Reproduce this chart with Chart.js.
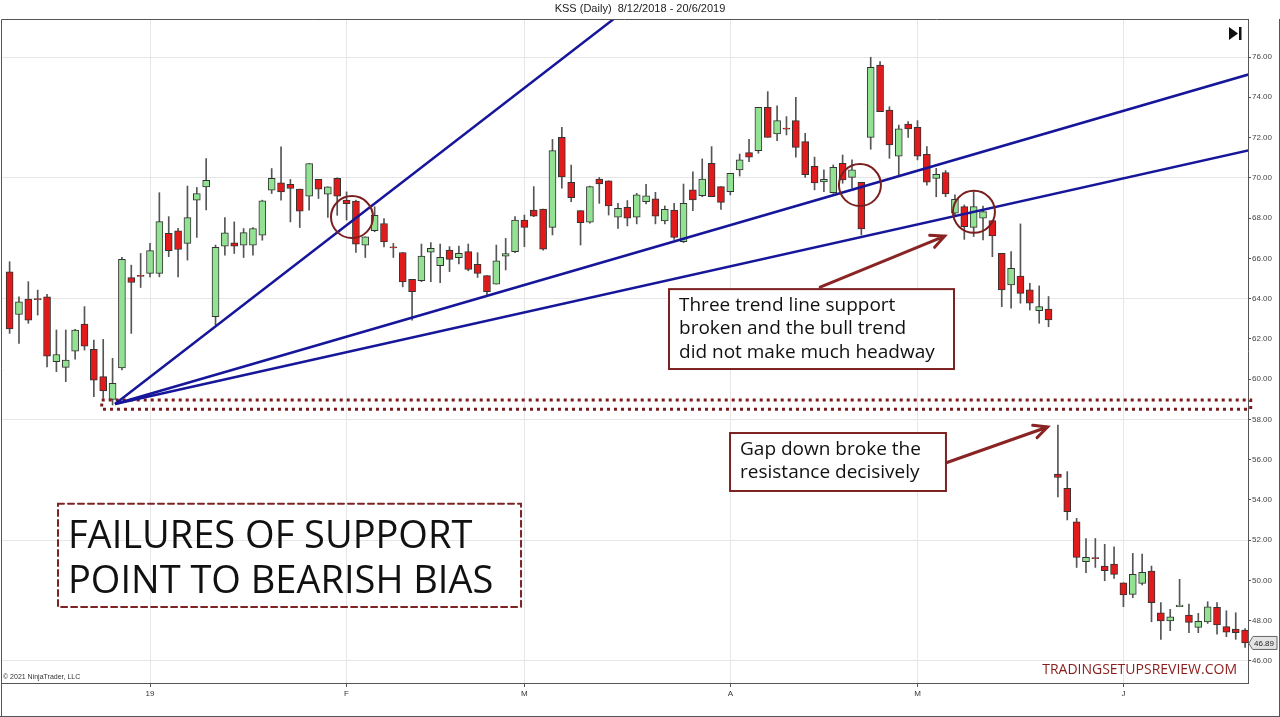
<!DOCTYPE html>
<html>
<head>
<meta charset="utf-8">
<script src="https://cdn.jsdelivr.net/npm/chart.js@4.4.1/dist/chart.umd.min.js"></script>
<style>
  html, body { margin: 0; padding: 0; background: #fff; }
  canvas { display: block; }
</style>
</head>
<body>
<canvas id="kss" width="1280" height="717"></canvas>
<script>
// KSS daily candles, 10 Dec 2018 .. 20 Jun 2019 (index = trading day)
const opens = [65.33,63.21,63.98,63.98,64.09,60.86,60.58,61.39,62.73,61.48,60.12,58.99,60.56,65.04,65.12,65.25,65.25,67.24,67.37,66.74,
  68.89,69.55,63.10,66.60,66.77,66.65,66.65,67.15,69.39,69.75,69.68,69.44,69.09,69.92,69.19,69.97,68.89,68.84,66.65,67.37,
  67.73,66.56,66.29,64.96,64.89,66.30,65.63,66.41,66.03,66.33,65.70,65.14,64.72,66.11,66.33,67.90,68.40,68.45,67.54,72.01,
  69.77,68.37,67.79,69.94,69.85,68.04,68.53,68.04,68.82,68.95,67.86,68.40,66.83,69.40,69.11,70.72,69.56,69.31,70.39,71.25,
  71.35,73.50,72.18,72.46,72.84,71.80,70.57,69.79,69.26,70.72,70.02,69.78,72.01,75.60,73.37,71.08,72.67,72.51,71.17,69.97,
  70.26,68.24,68.57,67.54,67.99,67.87,66.25,64.68,65.12,64.43,63.40,63.48,55.28,54.57,52.91,50.93,51.10,50.71,50.81,49.88,
  49.30,49.85,50.46,48.39,47.99,48.69,48.28,47.66,47.94,48.66,47.70,47.58,47.53];
const highs = [65.83,64.09,64.84,64.42,64.21,62.44,62.44,62.47,63.60,61.94,61.97,61.03,66.05,65.66,66.24,66.74,69.26,68.07,67.49,69.59,
  69.52,70.95,66.66,68.03,67.81,67.48,67.53,68.89,70.46,71.54,69.92,69.44,70.71,69.92,69.55,70.00,69.30,68.89,67.07,68.56,
  67.98,66.74,66.29,64.96,66.71,66.78,66.71,66.58,66.61,66.71,66.28,65.14,66.66,66.99,68.07,68.15,69.56,68.45,71.91,72.51,
  70.63,68.37,69.59,70.02,69.85,68.73,68.87,69.23,69.68,69.28,68.60,68.73,69.69,70.30,70.94,71.55,69.56,70.22,71.18,71.91,
  73.50,74.28,73.57,73.04,74.00,72.21,71.03,70.39,70.64,71.13,70.89,69.78,75.99,75.77,73.53,72.62,72.79,72.84,71.55,70.47,
  70.36,69.15,68.65,69.31,68.60,67.87,66.25,66.33,67.71,64.76,64.63,64.10,57.71,55.40,53.08,52.08,52.08,51.79,51.67,49.88,
  51.34,51.31,50.71,48.89,48.56,50.05,48.82,48.36,48.94,48.89,48.49,48.39,47.61];
const lows = [62.27,61.77,62.77,63.18,60.61,60.37,59.87,60.99,61.44,59.12,59.04,58.71,60.45,62.27,64.55,65.08,65.08,66.08,65.08,65.91,
  67.04,68.40,62.70,66.16,66.24,66.04,66.16,66.90,69.22,68.89,67.81,67.53,68.39,68.97,68.03,68.14,67.90,66.29,66.04,67.32,
  66.57,66.04,64.58,62.93,64.84,64.84,64.79,65.34,65.72,65.38,65.05,64.13,64.72,65.42,66.28,66.58,68.07,66.41,67.16,69.48,
  68.81,66.66,67.74,68.73,68.15,67.49,67.61,67.71,68.70,67.71,67.71,66.94,66.78,68.37,69.06,69.06,68.43,69.15,70.09,70.80,
  71.22,72.01,71.85,72.13,71.02,70.02,69.40,69.31,69.23,69.73,69.48,67.16,71.42,73.29,70.97,70.14,72.01,70.89,69.64,69.06,
  69.06,68.15,66.94,67.08,66.91,66.08,63.60,63.52,63.77,63.43,62.77,62.60,54.15,53.00,50.64,50.38,50.64,49.98,50.10,48.69,
  49.14,49.77,47.94,47.07,47.50,48.69,47.40,47.40,47.86,47.33,47.20,47.07,46.67];
const closes = [62.49,63.84,62.93,63.95,61.14,61.22,60.94,62.44,61.64,59.95,59.41,59.79,65.95,64.80,65.10,66.38,67.82,66.38,66.44,68.02,
  69.22,69.88,66.54,67.27,66.60,67.28,67.48,68.86,69.97,69.30,69.47,68.34,70.71,69.44,69.55,69.09,68.72,66.70,67.07,68.14,
  66.82,66.52,64.83,64.34,66.11,66.49,66.05,65.95,66.25,65.45,65.25,64.34,65.88,66.23,67.90,67.54,68.10,66.46,71.35,70.05,
  69.01,67.77,69.56,69.69,68.60,68.48,67.99,69.15,69.11,68.10,68.43,67.04,68.73,68.90,69.94,69.06,68.78,70.22,70.89,71.02,
  73.50,72.01,72.84,72.42,71.51,70.16,69.75,69.93,70.52,69.90,70.39,67.46,75.49,73.29,71.63,72.43,72.43,71.08,69.78,70.17,
  69.20,68.93,67.57,68.57,68.32,67.11,64.43,65.50,64.26,63.77,63.60,62.94,55.11,53.41,51.14,51.14,51.08,50.48,50.30,49.27,
  50.30,50.40,48.89,47.98,48.19,48.77,47.91,47.97,48.69,47.78,47.42,47.40,46.89];

const monthTicks = [15, 36, 55, 77, 97, 119];
const monthLabels = ['19', 'F', 'M', 'A', 'M', 'J'];
const priceTicks = [46, 48, 50, 52, 54, 56, 58, 60, 62, 64, 66, 68, 70, 72, 74, 76];

// drawn studies: three trend lines from the December low, circles, support zone
const trendLines = [
  [[11.26, 58.76], [70, 79.85]],
  [[11.26, 58.76], [132.5, 75.15]],
  [[11.26, 58.76], [132.5, 71.38]]
];
const circleMarks = [[36.58, 68.05], [90.85, 69.64], [103.03, 68.31]];
const zone = { from: 9.84, to: 132.6, top: 58.96, bottom: 58.50 };

const green = '#93e293';
const red = '#e11b1b';

const notes = {
  id: 'notes',
  afterDatasetsDraw(chart) {
    const { ctx, chartArea: a, scales: { x, y } } = chart;
    const px = v => x.getPixelForValue(v);
    const py = v => y.getPixelForValue(v);
    ctx.save();

    // frame
    ctx.strokeStyle = '#555';
    ctx.lineWidth = 1;
    ctx.beginPath();
    ctx.moveTo(a.left + 0.5, 717);
    ctx.lineTo(a.left + 0.5, a.top + 0.5);
    ctx.lineTo(a.right, a.top + 0.5);
    ctx.moveTo(0, 716.5);
    ctx.lineTo(1280, 716.5);
    ctx.moveTo(1279.5, a.top);
    ctx.lineTo(1279.5, 717);
    ctx.stroke();

    // arrows
    const arrow = (x1, y1, x2, y2) => {
      const ang = Math.atan2(y2 - y1, x2 - x1);
      ctx.strokeStyle = '#8a2424';
      ctx.lineWidth = 3;
      ctx.lineCap = 'round';
      ctx.beginPath();
      ctx.moveTo(x1, y1);
      ctx.lineTo(x2, y2);
      ctx.moveTo(x2 - 15 * Math.cos(ang - 0.45), y2 - 15 * Math.sin(ang - 0.45));
      ctx.lineTo(x2, y2);
      ctx.lineTo(x2 - 15 * Math.cos(ang + 0.45), y2 - 15 * Math.sin(ang + 0.45));
      ctx.stroke();
    };
    arrow(px(86.6), py(64.57), px(99.9), py(67.1));
    arrow(px(100.0), py(55.83), px(110.9), py(57.62));

    // note boxes
    const box = (x1, y1, x2, y2, lines, size, lh) => {
      const l = px(x1), t = py(y1), r = px(x2), b = py(y2);
      ctx.fillStyle = '#fff';
      ctx.fillRect(l, t, r - l, b - t);
      ctx.strokeStyle = '#7d2222';
      ctx.lineWidth = 2;
      ctx.strokeRect(l, t, r - l, b - t);
      ctx.fillStyle = '#111';
      ctx.font = size + 'px "Open Sans"';
      ctx.textBaseline = 'alphabetic';
      lines.forEach((s, i) => ctx.fillText(s, l + 10, t + 22 + i * lh));
    };
    box(70.45, 64.47, 100.9, 60.5, ['Three trend line support', 'broken and the bull trend', 'did not make much headway'], 19, 23.3);
    box(76.97, 57.32, 100.04, 54.44, ['Gap down broke the', 'resistance decisively'], 19, 23.3);

    // headline
    const l = px(5.17), t = py(53.8), r = px(54.64), b = py(48.68);
    ctx.setLineDash([6, 4]);
    ctx.strokeStyle = '#7d2222';
    ctx.lineWidth = 2;
    ctx.strokeRect(l, t, r - l, b - t);
    ctx.setLineDash([]);
    ctx.fillStyle = '#111';
    ctx.font = '38px "Open Sans"';
    ctx.fillText('FAILURES OF SUPPORT', l + 10, t + 44);
    ctx.fillText('POINT TO BEARISH BIAS', l + 10, t + 89);

    // credits
    ctx.font = '7px "Liberation Sans"';
    ctx.fillStyle = '#333';
    ctx.fillText('\u00a9 2021 NinjaTrader, LLC', a.left + 2, a.bottom - 4);
    ctx.font = '14px "Open Sans"';
    ctx.fillStyle = '#8b1c1c';
    ctx.textAlign = 'right';
    ctx.fillText('TRADINGSETUPSREVIEW.COM', a.right - 11, a.bottom - 9);

    // last price flag
    const lp = closes[closes.length - 1];
    const ly = py(lp);
    ctx.fillStyle = '#e4e4e4';
    ctx.strokeStyle = '#666';
    ctx.lineWidth = 1;
    ctx.beginPath();
    ctx.moveTo(a.right + 1, ly);
    ctx.lineTo(a.right + 5, ly - 6.5);
    ctx.lineTo(a.right + 29, ly - 6.5);
    ctx.lineTo(a.right + 29, ly + 6.5);
    ctx.lineTo(a.right + 5, ly + 6.5);
    ctx.closePath();
    ctx.fill();
    ctx.stroke();
    ctx.fillStyle = '#222';
    ctx.font = '8px "Liberation Sans"';
    ctx.textAlign = 'left';
    ctx.textBaseline = 'middle';
    ctx.fillText(lp.toFixed(2), a.right + 6, ly + 0.5);

    // go-to-end icon
    ctx.fillStyle = '#111';
    ctx.beginPath();
    ctx.moveTo(a.right - 19, a.top + 8);
    ctx.lineTo(a.right - 19, a.top + 21);
    ctx.lineTo(a.right - 10, a.top + 14.5);
    ctx.closePath();
    ctx.fill();
    ctx.fillRect(a.right - 9, a.top + 8, 2.5, 13);

    // title
    ctx.font = '11px "Liberation Sans"';
    ctx.fillStyle = '#222';
    ctx.textAlign = 'center';
    ctx.textBaseline = 'middle';
    ctx.fillText('KSS (Daily)  8/12/2018 - 20/6/2019', 640, 9);
    ctx.restore();
  }
};

new Chart('kss', {
  type: 'bar',
  data: {
    datasets: [
      {
        type: 'line',
        data: circleMarks.map(p => ({ x: p[0], y: p[1] })),
        showLine: false,
        pointRadius: 21,
        pointBorderWidth: 2,
        pointBorderColor: '#7a1f1f',
        pointBackgroundColor: 'rgba(0,0,0,0)'
      },
      ...trendLines.map(seg => ({
        type: 'line',
        data: seg.map(p => ({ x: p[0], y: p[1] })),
        borderColor: '#16169a',
        borderWidth: 2.5,
        pointRadius: 0
      })),
      {
        type: 'line',
        data: [
          { x: zone.from, y: zone.top }, { x: zone.to, y: zone.top },
          { x: zone.to, y: zone.bottom }, { x: zone.from, y: zone.bottom },
          { x: zone.from, y: zone.top }
        ],
        borderColor: '#7d1c1c',
        borderWidth: 3,
        borderDash: [3, 4],
        pointRadius: 0,
        clip: false
      },
      {
        label: 'body',
        data: opens.map((o, i) => ({ x: i, y: [o, closes[i]] })),
        backgroundColor: opens.map((o, i) => closes[i] >= o ? green : red),
        borderColor: '#333',
        borderWidth: 1,
        borderSkipped: false,
        barThickness: 7,
        minBarLength: 1,
        grouped: false
      },
      {
        label: 'wick',
        data: lows.map((lo, i) => ({ x: i, y: [lo, highs[i]] })),
        backgroundColor: '#555',
        barThickness: 1,
        grouped: false
      }
    ]
  },
  options: {
    responsive: false,
    animation: false,
    events: [],
    layout: { autoPadding: false, padding: { left: 1, top: 19, right: 0, bottom: 0 } },
    plugins: {
      legend: { display: false },
      tooltip: { enabled: false },
      title: { display: false }
    },
    scales: {
      x: {
        type: 'linear',
        min: -0.92,
        max: 132.31,
        offset: false,
        afterBuildTicks: axis => { axis.ticks = monthTicks.map(v => ({ value: v })); },
        afterFit: axis => { axis.height = 34; },
        ticks: {
          callback: (v, i) => monthLabels[i],
          autoSkip: false,
          maxRotation: 0,
          font: { size: 8, family: 'Liberation Sans' },
          color: '#333',
          padding: 2
        },
        grid: { offset: false, color: '#e6e6e6', tickColor: '#555', tickLength: 4 },
        border: { color: '#555' }
      },
      y: {
        position: 'right',
        min: 44.9,
        max: 77.89,
        afterBuildTicks: axis => { axis.ticks = priceTicks.map(v => ({ value: v })); },
        afterFit: axis => { axis.width = 32; },
        ticks: {
          callback: v => v.toFixed(2),
          font: { size: 8, family: 'Liberation Sans' },
          color: '#444',
          padding: 1
        },
        grid: {
          color: c => (c.tick && (c.tick.value - 4) % 6 === 0) ? '#e6e6e6' : 'rgba(0,0,0,0)',
          tickColor: '#555',
          tickLength: 3
        },
        border: { color: '#555' }
      }
    }
  },
  plugins: [notes]
});
</script>
</body>
</html>
